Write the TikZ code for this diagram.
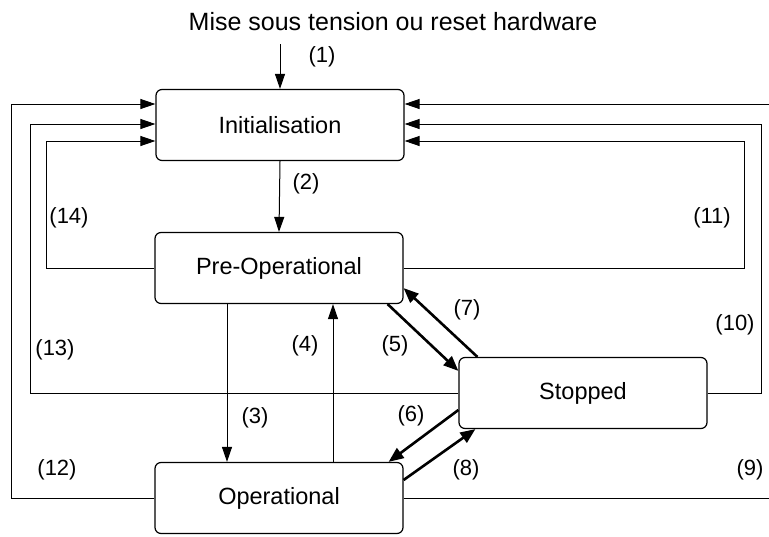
\documentclass[tikz,border=0pt]{standalone}
\usepackage{fontspec}
\setmainfont{Liberation Sans}
\usetikzlibrary{arrows.meta}

\begin{document}
\begin{tikzpicture}[x=1pt, y=-1pt,
    state/.style={rectangle, draw, line width=1.2pt, rounded corners=6pt, minimum width=248pt, minimum height=71pt, font=\fontsize{23.5}{27}\selectfont},
    arrow/.style={-{Triangle[length=15pt, width=10pt]}, line width=1pt},
    boldarrow/.style={-{Triangle[length=15pt, width=12pt]}, line width=2.6pt},
    num/.style={font=\fontsize{22}{26}\selectfont}
]
    \clip (0,0) rectangle (769,536);

    % States
    \node[state] (init) at (280,125) {Initialisation};
    \node[state] (preop) at (279,268) {Pre-Operational};
    \node[state] (op) at (279,498) {Operational};
    \node[state] (stopped) at (583,393) {Stopped};

    % Power on
    \node[font=\fontsize{25}{29}\selectfont] (title) at (393,22) {Mise sous tension ou reset hardware};
    \coordinate (power) at (280,44);
    \draw[arrow] (power) -- (init.north);

    % Straight transitions
    \draw[arrow] (init.south) -- (preop.north);
    \draw[arrow] ([xshift=-52]preop.south) -- ([xshift=-52]op.north);
    \draw[arrow] ([xshift=54]op.north) -- ([xshift=54]preop.south);

    % Diagonal transitions to and from Stopped
    \draw[boldarrow] ([xshift=-16]preop.south east) -- ([yshift=-14]stopped.north west);
    \draw[boldarrow] ([xshift=19]stopped.north west) -- ([yshift=16]preop.south east);
    \draw[boldarrow] ([yshift=-17]stopped.west) -- ([xshift=-15]op.north east);
    \draw[boldarrow] ([yshift=18]op.east) -- ([xshift=17]stopped.south west);

    % Left side: back to Initialisation
    \draw[arrow] (op.west) -- ++(-143,0) |- ([yshift=21]init.west);
    \draw[arrow] (stopped.west) -- ++(-428,0) |- ([yshift=1]init.west);
    \draw[arrow] (preop.west) -- ++(-108,0) |- ([yshift=-16]init.west);

    % Right side: back to Initialisation
    \draw[arrow] (op.east) -- ++(380,0) |- ([yshift=21]init.east);
    \draw[arrow] (stopped.east) -- ++(54,0) |- ([yshift=1]init.east);
    \draw[arrow] (preop.east) -- ++(341,0) |- ([yshift=-16]init.east);

    % Transition numbers
    \node[num] (n1) at (322,57) {(1)};
    \node[num] (n2) at (306,184) {(2)};
    \node[num] (n3) at (255,418) {(3)};
    \node[num] (n4) at (305,346) {(4)};
    \node[num] (n5) at (395,346) {(5)};
    \node[num] (n6) at (411,416) {(6)};
    \node[num] (n7) at (467,310) {(7)};
    \node[num] (n8) at (466,470) {(8)};
    \node[num] (n9) at (750,470) {(9)};
    \node[num] (n10) at (735,325) {(10)};
    \node[num] (n11) at (712,218) {(11)};
    \node[num] (n12) at (57,470) {(12)};
    \node[num] (n13) at (55,350) {(13)};
    \node[num] (n14) at (69,218) {(14)};
\end{tikzpicture}
\end{document}
